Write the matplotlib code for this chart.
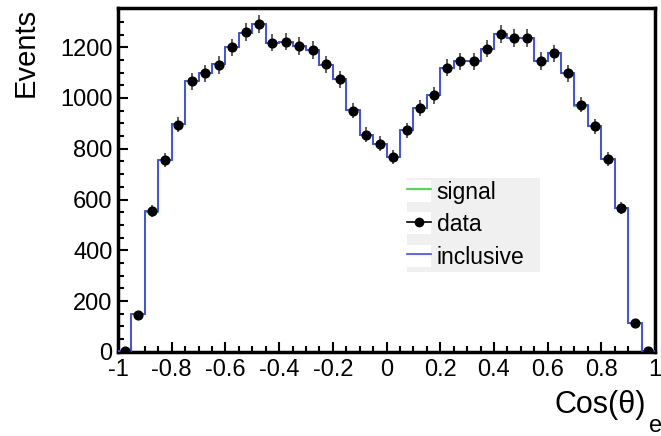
import numpy as np
import matplotlib.pyplot as plt
from matplotlib.lines import Line2D
from matplotlib.patches import Rectangle
from matplotlib.ticker import MultipleLocator

plt.rcParams["font.family"] = ["Liberation Sans", "DejaVu Sans"]
plt.rcParams["axes.unicode_minus"] = False

# 40 bins of cos(theta_e) in [-1, 1]
BIN_EDGES = np.linspace(-1.0, 1.0, 41)

data_counts = [2, 146, 553, 757, 895, 1066, 1097, 1130, 1199, 1258,
               1290, 1218, 1222, 1205, 1189, 1133, 1073, 950, 855, 820,
               767, 872, 960, 1010, 1119, 1144, 1144, 1194, 1251, 1235,
               1235, 1146, 1176, 1097, 974, 888, 761, 565, 112, 3]

inclusive_counts = [2, 149, 556, 757, 897, 1066, 1099, 1132, 1199, 1257,
                    1290, 1217, 1222, 1203, 1189, 1131, 1073, 952, 855, 820,
                    767, 872, 960, 1010, 1119, 1144, 1144, 1194, 1251, 1236,
                    1236, 1146, 1176, 1097, 974, 888, 761, 565, 112, 3]

signal_counts = [2, 149, 551, 757, 897, 1066, 1099, 1132, 1199, 1257,
                 1290, 1217, 1222, 1203, 1189, 1131, 1073, 952, 855, 820,
                 767, 872, 960, 1010, 1119, 1144, 1144, 1194, 1251, 1236,
                 1236, 1146, 1176, 1097, 968, 888, 761, 565, 112, 3]

SIGNAL_COLOR = "#22dd22"
INCL_COLOR = "#4646ff"

fig = plt.figure(figsize=(6.61, 4.36), dpi=100)
ax = fig.add_axes([0.1785, 0.193, 0.8125, 0.789])

centers = 0.5 * (BIN_EDGES[:-1] + BIN_EDGES[1:])
data = np.array(data_counts, dtype=float)

ax.stairs(signal_counts, BIN_EDGES, color=SIGNAL_COLOR, lw=1.3, zorder=2)
ax.stairs(inclusive_counts, BIN_EDGES, color=INCL_COLOR, lw=1.3, zorder=3)
ax.errorbar(centers, data, yerr=np.sqrt(data), fmt="o", color="black",
            ecolor="#333333", elinewidth=1.1, markersize=6.3, capsize=0, zorder=4)

ax.set_xlim(-1, 1)
ax.set_ylim(0, 1355)
ax.xaxis.set_major_locator(MultipleLocator(0.2))
ax.xaxis.set_minor_locator(MultipleLocator(0.05))
ax.yaxis.set_major_locator(MultipleLocator(200))
ax.yaxis.set_minor_locator(MultipleLocator(50))
ax.xaxis.set_major_formatter(lambda v, pos: f"{v:g}" if abs(v) > 1e-9 else "0")
ax.tick_params(which="both", direction="in", top=False, right=False, width=1.5)
ax.tick_params(which="major", length=7.5, labelsize=17)
ax.tick_params(axis="x", which="major", pad=5.5)
ax.tick_params(axis="y", which="major", pad=4)
ax.tick_params(which="minor", length=4)
for sp in ax.spines.values():
    sp.set_linewidth(2.5)

# x title with a lowered subscript, right-aligned to the frame
ax.set_xlabel("Cos(θ)", fontsize=22, loc="right")
ax.xaxis.set_label_coords(0.984, -0.112)
ax.text(0.988, -0.183, "e", transform=ax.transAxes, fontsize=17,
        ha="left", va="top")
ax.set_ylabel("Events", fontsize=21, loc="top")
ax.yaxis.set_label_coords(-0.145, 1.0)

# grey legend panel
ax.add_patch(Rectangle((0.538, 0.2326), 0.248, 0.273, transform=ax.transAxes,
                       facecolor="#f0f0f0", edgecolor="none", zorder=5))
blank = Rectangle((0, 0), 1, 1, facecolor="white", edgecolor="none")
h_sig = Line2D([], [], color=SIGNAL_COLOR, lw=1.2)
h_dat = Line2D([], [], color="black", lw=1.2, marker="o", markersize=6)
h_inc = Line2D([], [], color=INCL_COLOR, lw=1.2)
leg = ax.legend([(blank, h_sig), (blank, h_dat), (blank, h_inc)],
                ["signal", "data", "inclusive"],
                loc="upper left", bbox_to_anchor=(0.538, 0.500),
                fontsize=16.5, frameon=False,
                handlelength=1.05, handleheight=1.1, handletextpad=0.25,
                labelspacing=0.38, borderpad=0.0, borderaxespad=0)
leg.set_zorder(6)

fig.savefig("out.png", dpi=100)
